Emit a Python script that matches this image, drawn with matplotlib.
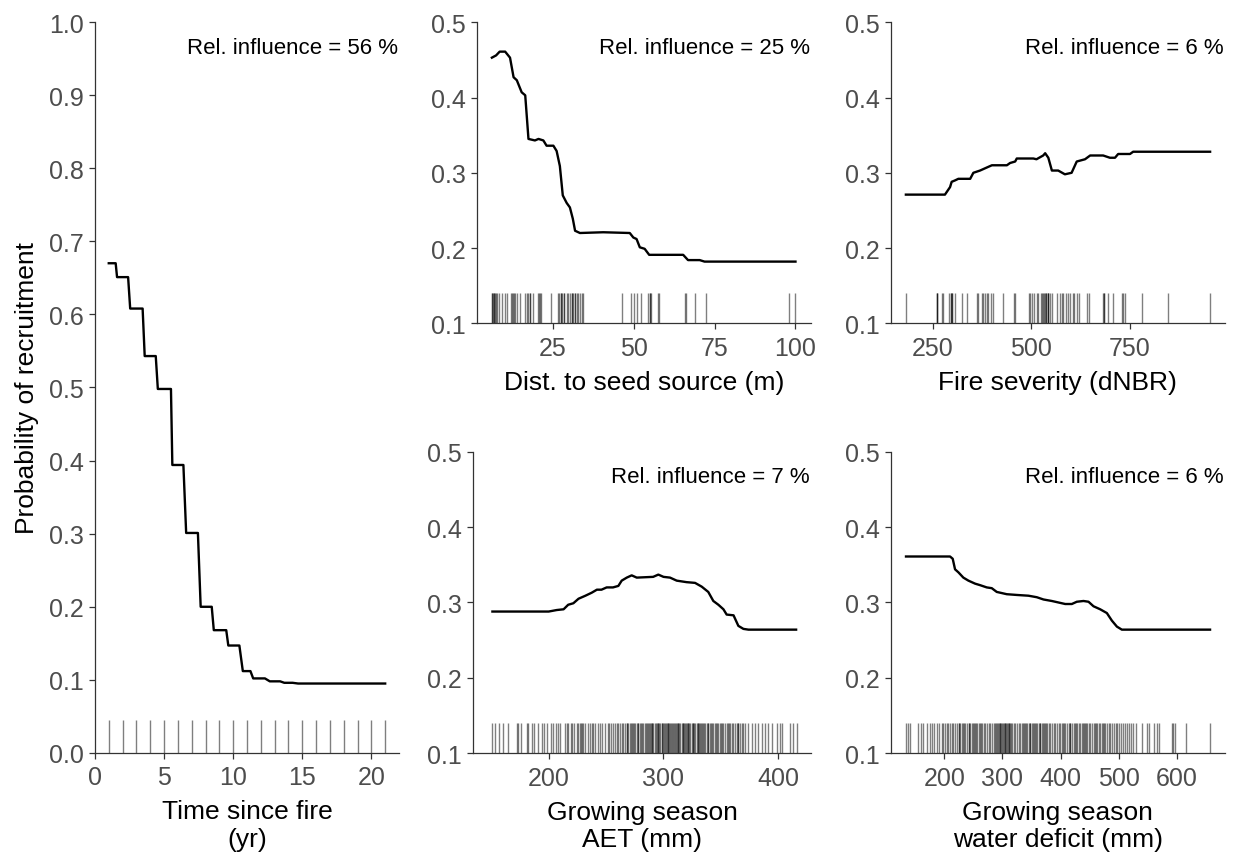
import matplotlib
matplotlib.use("Agg")
import matplotlib.pyplot as plt

plt.rcParams['font.family'] = ['Liberation Sans', 'DejaVu Sans']

# --- Time since fire (yr) ---
time_x = [1.0, 1.5, 1.6, 2.4, 2.55, 3.45, 3.6, 4.4, 4.55, 5.5, 5.6, 6.4, 6.6, 7.45, 7.65,
          8.45, 8.6, 9.5, 9.65, 10.45, 10.7, 11.25, 11.45, 12.3, 12.65, 13.4, 13.7, 14.3, 14.7, 21.0]
time_y = [0.670, 0.670, 0.651, 0.651, 0.608, 0.608, 0.543, 0.543, 0.498, 0.498, 0.394, 0.394,
          0.301, 0.301, 0.200, 0.200, 0.168, 0.168, 0.147, 0.147, 0.112, 0.112, 0.102, 0.102,
          0.098, 0.098, 0.096, 0.096, 0.095, 0.095]
time_rug = [1, 2, 3, 4, 5, 6, 7, 8, 9, 10, 11, 12, 13, 14, 15, 16, 17, 18, 19, 20, 21]

# --- Distance to seed source (m) ---
dist_x = [6.2, 7.5, 8.6, 10.3, 11.8, 12.9, 13.9, 15.4, 16.5, 17.5, 19.5, 20.6, 22.1, 23.1, 25.2,
          26.2, 27.2, 28.1, 29.3, 30.3, 31.2, 31.9, 33.4, 40.6, 48.8, 49.9, 50.9, 51.9, 53.4,
          54.8, 65.3, 66.8, 70.4, 71.9, 100.0]
dist_y = [0.453, 0.456, 0.461, 0.461, 0.453, 0.427, 0.423, 0.407, 0.403, 0.345, 0.343, 0.345,
          0.343, 0.336, 0.336, 0.329, 0.309, 0.270, 0.260, 0.254, 0.239, 0.223, 0.220, 0.221,
          0.220, 0.214, 0.212, 0.201, 0.199, 0.191, 0.191, 0.184, 0.184, 0.182, 0.182]
dist_rug = [6.2, 6.5, 6.8, 7.1, 7.5, 7.9, 8.4, 9.3, 10.3, 11.0, 12.2, 12.5, 12.9, 13.4, 14.1,
            14.9, 16.5, 17.0, 17.5, 18.0, 19.0, 20.6, 20.9, 21.3, 24.4, 26.7, 27.0, 27.4, 27.8,
            28.5, 29.3, 29.8, 30.3, 30.9, 31.4, 31.9, 32.4, 32.9, 33.4, 33.9, 34.4, 46.3, 49.3,
            50.1, 50.9, 52.4, 54.5, 55.0, 55.5, 57.6, 57.9, 65.8, 66.1, 68.9, 72.5, 97.9, 100.0,
            6.3, 7.0, 12.6, 18.1, 21.2, 27.5, 28.4, 31.0, 32.0, 55.1]

# --- Fire severity (dNBR) ---
sev_x = [182, 281, 294, 298, 307, 315, 345, 353, 370, 387, 400, 438, 446, 459, 463, 505, 513,
         530, 535, 543, 552, 568, 585, 602, 615, 636, 649, 682, 699, 712, 720, 750, 758, 953]
sev_y = [0.271, 0.271, 0.281, 0.288, 0.290, 0.292, 0.292, 0.300, 0.303, 0.307, 0.310, 0.310,
         0.313, 0.315, 0.319, 0.319, 0.318, 0.323, 0.326, 0.320, 0.303, 0.303, 0.298, 0.300,
         0.315, 0.318, 0.323, 0.323, 0.320, 0.320, 0.325, 0.325, 0.328, 0.328]
sev_rug = [182, 260, 262, 273, 277, 292, 296, 298, 307, 323, 338, 361, 366, 374, 378, 383, 387,
           391, 397, 402, 427, 456, 459, 494, 497, 501, 507, 514, 516, 524, 526, 530, 533, 537,
           541, 543, 547, 552, 566, 573, 577, 581, 588, 592, 598, 605, 608, 615, 622, 640, 647,
           682, 684, 695, 706, 729, 733, 737, 780, 847, 953,
           261, 297, 299, 534, 538, 542, 683]

# --- Growing season AET (mm) ---
aet_x = [151, 200, 207, 213, 217, 221.5, 226, 232, 237.5, 242, 246, 250.5, 256, 260.7, 263.6,
         268, 272.3, 276.7, 291, 295.5, 300, 305.7, 311.5, 320, 327.5, 333.3, 339, 343.4,
         347.8, 352.2, 355, 361, 365.2, 369.6, 374, 415.5]
aet_y = [0.288, 0.288, 0.290, 0.291, 0.297, 0.299, 0.305, 0.309, 0.313, 0.317, 0.317, 0.320,
         0.320, 0.322, 0.329, 0.333, 0.336, 0.333, 0.334, 0.337, 0.334, 0.333, 0.329, 0.327,
         0.326, 0.321, 0.314, 0.302, 0.297, 0.291, 0.284, 0.283, 0.269, 0.265, 0.264, 0.264]
aet_rug = [151, 153, 156.7, 160.5, 164.8, 172, 173.5, 175.9, 180.8, 182.3, 185.8, 187.5, 190.4,
           194.4, 196.2, 198.3, 202, 204, 206, 208.4, 209.8, 214.2, 215.7, 217.1, 219.4, 220.6,
           222.3, 224.4, 225.8, 227.3, 228.7, 230.1, 231.6, 234.5, 237.5, 238.9, 240.3, 243.2,
           246.2, 249, 251.9, 254.3, 256.3, 259.2, 260.6, 262.1, 263.6, 265, 266.5, 267.9, 269.3,
           270.8, 272.3, 273.7, 275.2, 276.7, 278, 279.5, 281, 282.4, 283.9, 285.3, 286.8, 288.3,
           289.7, 291.2, 292.6, 294.1, 295.5, 297, 298.4, 299.9, 301.3, 302.8, 304.2, 305.7,
           307.1, 308.6, 310, 311.5, 312.9, 314.4, 315.8, 317.3, 318.7, 320.2, 321.6, 323.1,
           324.6, 326, 327.5, 328.9, 330.4, 331.8, 333.3, 334.7, 336.2, 337.6, 339.1, 340.5, 342,
           343.4, 344.9, 346.3, 347.8, 349.2, 350.7, 352.1, 353.6, 355, 356.5, 358, 359.4, 360.9,
           362.3, 363.8, 365.2, 366.7, 368.1, 369.6, 371, 373.9, 376.8, 379.7, 382.6, 385.5,
           388.4, 391.3, 394.2, 398.6, 401.5, 403, 410.2, 413.1, 416,
           268.1, 271.5, 274.4, 277.9, 280.2, 284.6, 287.5, 290.4, 293.3, 296.2, 300.6, 303.5,
           306.4, 309.3, 312.2, 316.6, 319.5, 322.4, 325.3, 329.7, 332.6, 335.5, 341.3, 345.6,
           228.0, 236.1, 244.7, 252.6, 258.0, 289.0, 294.8, 298.9, 302.1, 305.0, 310.8, 313.7,
           318.0, 321.0, 326.8, 331.1, 338.4, 350.0, 357.3, 364.5]

# --- Growing season water deficit (mm) ---
def_x = [134, 209.8, 214.4, 218.4, 224.2, 232.7, 241.4, 252.9, 261.5, 273, 281.6, 290.2, 296,
         307.4, 324.7, 344.8, 359.1, 370.6, 385, 396.5, 408, 419.4, 428, 439.5, 448.1, 456.7,
         468.2, 479.7, 488.3, 497, 505.5, 657.3]
def_y = [0.361, 0.361, 0.358, 0.344, 0.340, 0.333, 0.329, 0.325, 0.323, 0.320, 0.319, 0.314,
         0.313, 0.311, 0.310, 0.309, 0.307, 0.304, 0.302, 0.300, 0.298, 0.298, 0.301, 0.302,
         0.301, 0.295, 0.291, 0.286, 0.276, 0.268, 0.264, 0.264]
def_rug = [133.5, 136.9, 140.9, 155.3, 159.9, 163.9, 169.6, 175.3, 179.4, 182.8, 186.8, 190.8,
           195.4, 198.5, 201.2, 204.3, 207.0, 209.8, 212.9, 215.5, 218.6, 221.3, 224.4, 227.1,
           230.0, 233.2, 235.9, 238.8, 241.6, 244.7, 247.3, 250.5, 253.1, 256.2, 259.0, 261.8,
           264.9, 267.6, 270.4, 273.5, 276.3, 279.2, 282.0, 285.1, 287.8, 290.6, 293.7, 296.4,
           299.3, 302.2, 305.0, 307.9, 310.8, 313.6, 316.5, 319.4, 322.3, 325.1, 328.0, 330.9,
           333.8, 336.6, 339.5, 342.4, 345.2, 348.1, 351.0, 353.9, 356.7, 359.6, 362.5, 365.3,
           368.2, 371.1, 374.0, 376.8, 379.7, 382.6, 385.4, 388.3, 391.2, 394.1, 396.9, 399.8,
           402.7, 405.5, 408.4, 411.3, 414.2, 417.0, 419.9, 422.8, 425.6, 428.5, 431.4, 434.3,
           437.1, 440.0, 442.9, 445.7, 448.6, 451.5, 454.4, 457.2, 460.1, 463.0, 465.8, 468.7,
           471.6, 474.5, 477.3, 480.2, 483.1, 485.9, 488.8, 491.7, 494.6, 497.4, 500.3, 503.2,
           508, 511, 514, 518, 521, 525, 529, 540, 548, 552, 560, 565.5, 569.5, 591, 594, 597,
           615.4, 657.3,
           226.0, 231.5, 243.2, 249.1, 255.0, 262.5, 288.9, 292.2, 295.0, 298.1, 301.0, 303.6,
           306.3, 309.5, 312.1, 315.2, 334.9, 341.0, 346.7, 352.3, 358.0, 363.9, 369.6, 375.4,
           404.0, 415.6, 427.0, 438.6, 444.4, 461.5, 472.9]

titles = ["Rel. influence = 56 %", "Rel. influence = 25 %", "Rel. influence = 6 %",
          "Rel. influence = 7 %", "Rel. influence = 6 %"]

fig = plt.figure(figsize=(12.33, 8.53), dpi=100)

dark = '#333333'
tick_grey = '#4d4d4d'


def panel(rect, x, y, rug, xlim, ylim, yticks, xticks, xlabel, note, rug_top):
    ax = fig.add_axes(rect)
    ax.vlines(rug, ylim[0], rug_top, color='black', alpha=0.5, lw=1.0)
    ax.plot(x, y, color='black', lw=1.7, solid_joinstyle='round')
    ax.set_xlim(*xlim)
    ax.set_ylim(*ylim)
    ax.set_yticks(yticks)
    ax.set_yticklabels(["%.1f" % v for v in yticks])
    ax.set_xticks(xticks)
    ax.set_xticklabels([str(v) for v in xticks])
    ax.spines['top'].set_visible(False)
    ax.spines['right'].set_visible(False)
    for s in ['left', 'bottom']:
        ax.spines[s].set_color(dark)
        ax.spines[s].set_linewidth(0.9)
    ax.tick_params(axis='both', direction='out', length=4, width=0.9, color=dark,
                   labelcolor=tick_grey, labelsize=18)
    ax.tick_params(axis='x', pad=5)
    ax.tick_params(axis='y', pad=4)
    ax.set_xlabel(xlabel, fontsize=19, color='black', labelpad=7, linespacing=1.2)
    ax.annotate(note, xy=(1, 1), xycoords='axes fraction', xytext=(-1, -25),
                textcoords='offset pixels', ha='right', va='center', fontsize=16)
    return ax


ax1 = panel([0.0770, 0.1161, 0.2466, 0.8569], time_x, time_y, time_rug, (0, 22), (0, 1.0),
            [0.0, 0.1, 0.2, 0.3, 0.4, 0.5, 0.6, 0.7, 0.8, 0.9, 1.0], [0, 5, 10, 15, 20],
            "Time since fire\n(yr)", titles[0], 0.045)
ax1.set_ylabel("Probability of recruitment", fontsize=19, labelpad=7)

panel([0.3866, 0.6198, 0.2709, 0.3529], dist_x, dist_y, dist_rug, (1.5, 104.7), (0.1, 0.5),
      [0.1, 0.2, 0.3, 0.4, 0.5], [25, 50, 75, 100],
      "Dist. to seed source (m)", titles[1], 0.14)

panel([0.7224, 0.6198, 0.2711, 0.3529], sev_x, sev_y, sev_rug, (143.6, 990.7), (0.1, 0.5),
      [0.1, 0.2, 0.3, 0.4, 0.5], [250, 500, 750],
      "Fire severity (dNBR)", titles[2], 0.14)

panel([0.3839, 0.1157, 0.2736, 0.3536], aet_x, aet_y, aet_rug, (134.4, 428.2), (0.1, 0.5),
      [0.1, 0.2, 0.3, 0.4, 0.5], [200, 300, 400],
      "Growing season\nAET (mm)", titles[3], 0.14)

panel([0.7224, 0.1157, 0.2711, 0.3536], def_x, def_y, def_rug, (107.7, 683.0), (0.1, 0.5),
      [0.1, 0.2, 0.3, 0.4, 0.5], [200, 300, 400, 500, 600],
      "Growing season\nwater deficit (mm)", titles[4], 0.14)

fig.savefig("out.png", dpi=100)
